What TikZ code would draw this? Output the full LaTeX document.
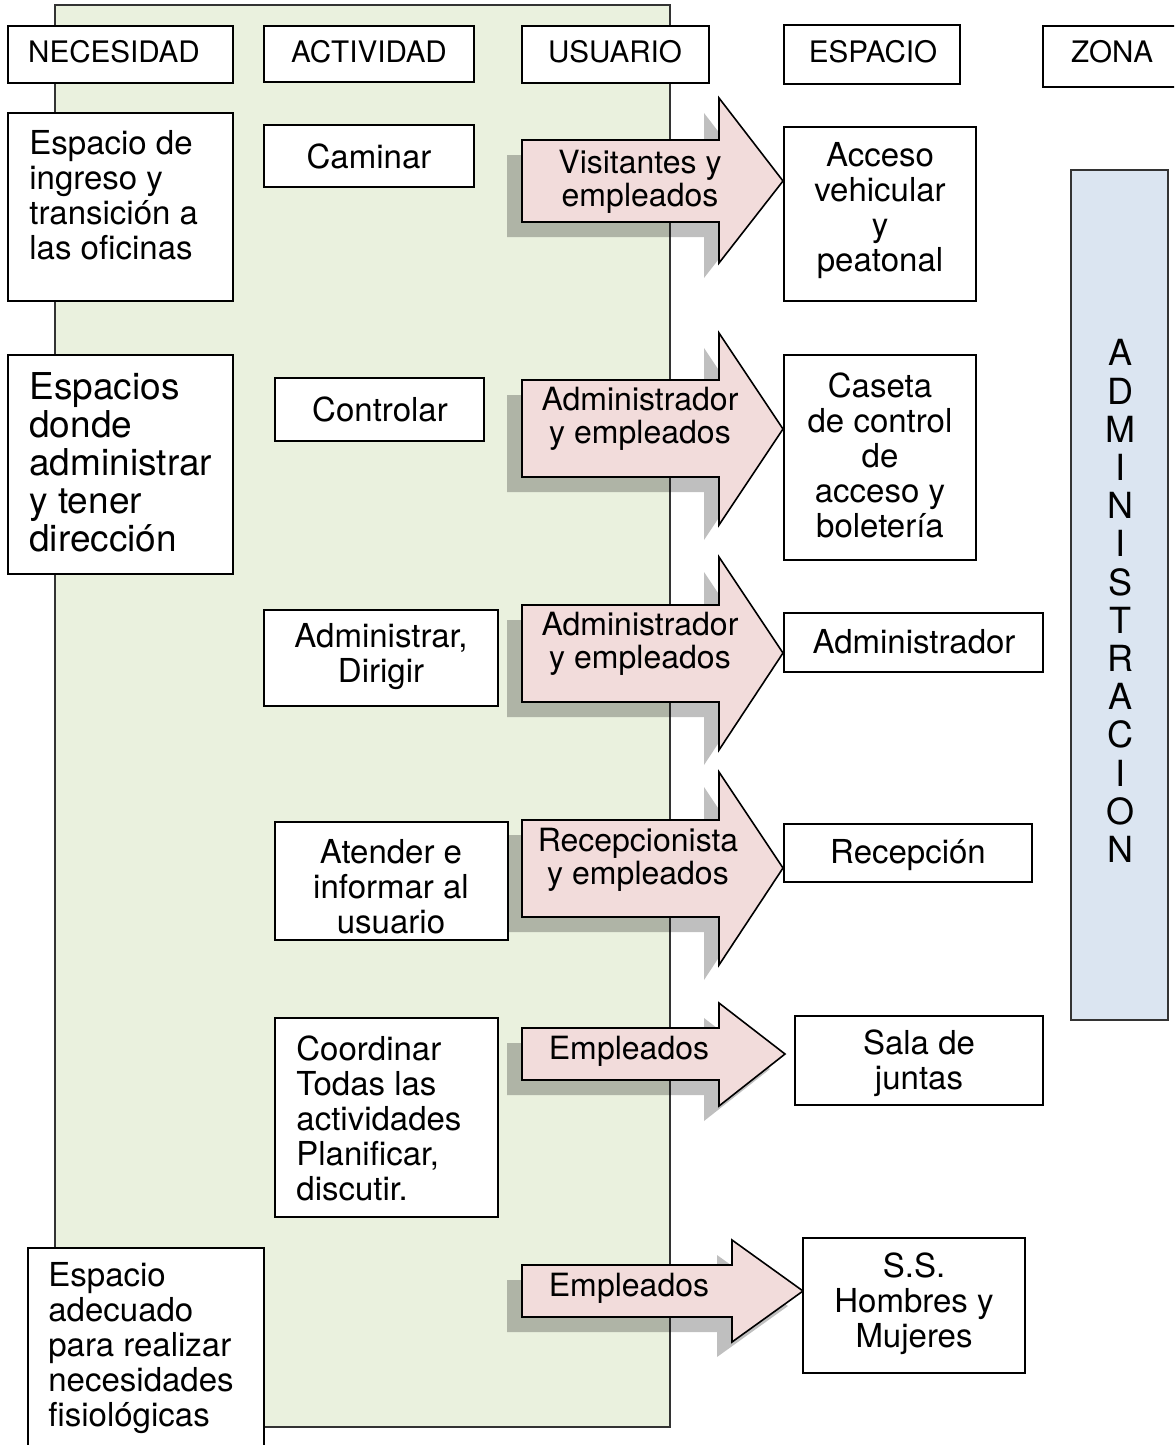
\documentclass[tikz,border=0pt]{standalone}
\usepackage{fontspec}
\setmainfont{TeX Gyre Heros}
\usetikzlibrary{fit}
\definecolor{bggreen}{HTML}{EAF1DE}
\definecolor{arrowpink}{HTML}{F2DCDB}
\definecolor{zoneblue}{HTML}{DBE5F1}
\definecolor{edgegray}{HTML}{333333}
\newcommand\mybox[3]{\node[box, fit={#2 #3}] (#1) {};}
\newcommand\myarrow[9]{%
  \fill[black, fill opacity=0.25, shift={(-15,15)}] (#2,#3)--(#5,#3)--(#5,#6)--(#8,#9)--(#5,#7)--(#5,#4)--(#2,#4)--cycle;
  \draw[arrowshape] (#2,#3)--(#5,#3)--(#5,#6)--(#8,#9)--(#5,#7)--(#5,#4)--(#2,#4)--cycle;
  \coordinate (#1) at (#8,#9);}
\begin{document}
\begin{tikzpicture}[x=0.5pt,y=-0.5pt,
  box/.style={draw=black, line width=0.8pt, fill=white, rectangle, inner sep=0pt},
  arrowshape/.style={draw=black, line width=0.8pt, fill=arrowpink, line join=miter},
  hdr/.style={font=\fontsize{14.8}{16}\selectfont, inner sep=0pt},
  txt/.style={font=\fontsize{16.5}{17.5}\selectfont, inner sep=0pt},
  bigtxt/.style={font=\fontsize{18.5}{19}\selectfont, inner sep=0pt},
  arrtxt/.style={font=\fontsize{16}{16.5}\selectfont, inner sep=0pt},
  zonetxt/.style={font=\fontsize{18}{19.1}\selectfont, inner sep=0pt}]
\useasboundingbox (0,0) rectangle (1174,1445);
\clip (0,0) rectangle (1174,1445);
\fill[white] (0,0) rectangle (1174,1445);
% green band
\node[draw=edgegray, line width=0.6pt, fill=bggreen, inner sep=0pt, fit={(55,5) (670,1427)}] (band) {};
% headers
\mybox{hN}{(8,26)}{(233,83)}
\mybox{hA}{(264,26)}{(474,82)}
\mybox{hU}{(522,26)}{(709,83)}
\mybox{hE}{(784,25)}{(960,84)}
\mybox{hZ}{(1043,26)}{(1190,87)}
\node[hdr] (hNt) at (114,52) {NECESIDAD};
\node[hdr] (hAt) at (369,52) {ACTIVIDAD};
\node[hdr] (hUt) at (615,52) {USUARIO};
\node[hdr] (hEt) at (873,52) {ESPACIO};
\node[hdr] (hZt) at (1112,52) {ZONA};
% necesidad boxes
\mybox{n1}{(8,113)}{(233,301)}
\node[txt, anchor=west, align=left] (n1t) at (29,195) {Espacio de\\ingreso y\\transición a\\las oficinas};
\mybox{n2}{(8,355)}{(233,574)}
\node[bigtxt, anchor=west, align=left] (n2t) at (29,462) {Espacios\\donde\\administrar\\y tener\\dirección};
\mybox{n3}{(28,1248)}{(264,1470)}
\node[txt, anchor=west, align=left] (n3t) at (48,1348) {Espacio\\adecuado\\para realizar\\necesidades\\fisiológicas};
% actividad boxes
\mybox{a1}{(264,125)}{(474,187)}
\node[txt] (a1t) at (369,156) {Caminar};
\mybox{a2}{(275,378)}{(484,441)}
\node[txt] (a2t) at (380,409) {Controlar};
\mybox{a3}{(264,610)}{(498,706)}
\node[txt, align=center] (a3t) at (381,657) {Administrar,\\Dirigir};
\mybox{a4}{(275,822)}{(508,940)}
\node[txt, align=center] (a4t) at (391,887) {Atender e\\informar al\\usuario};
\mybox{a5}{(275,1018)}{(498,1217)}
\node[txt, anchor=west, align=left] (a5t) at (296,1118) {Coordinar\\Todas las\\actividades\\Planificar,\\discutir.};
% arrows
\myarrow{t1}{522}{140}{222}{719}{98}{263}{783}{181}
\node[arrtxt, align=center] (u1t) at (640,182) {Visitantes y\\empleados};
\myarrow{t2}{522}{380}{477}{719}{333}{525}{783}{429}
\node[arrtxt, align=center] (u2t) at (640,419) {Administrador\\y empleados};
\myarrow{t3}{522}{605}{702}{719}{557}{750}{783}{653}
\node[arrtxt, align=center] (u3t) at (640,644) {Administrador\\y empleados};
\myarrow{t4}{522}{820}{917}{719}{772}{965}{783}{868}
\node[arrtxt, align=center] (u4t) at (638,860) {Recepcionista\\y empleados};
\myarrow{t5}{522}{1028}{1080}{719}{1003}{1106}{785}{1054}
\node[arrtxt] (u5t) at (629,1051) {Empleados};
\myarrow{t6}{522}{1265}{1317}{732}{1240}{1342}{803}{1291}
\node[arrtxt] (u6t) at (629,1288) {Empleados};
% espacio boxes
\mybox{e1}{(784,127)}{(976,301)}
\node[txt, align=center] (e1t) at (880,211) {Acceso\\vehicular\\y\\peatonal};
\mybox{e2}{(784,355)}{(976,560)}
\node[txt, align=center] (e2t) at (880,455) {Caseta\\de control\\de\\acceso y\\boletería};
\mybox{e3}{(784,613)}{(1043,672)}
\node[txt] (e3t) at (914,642) {Administrador};
\mybox{e4}{(784,824)}{(1032,882)}
\node[txt] (e4t) at (908,855) {Recepción};
\mybox{e5}{(795,1016)}{(1043,1105)}
\node[txt, align=center] (e5t) at (919,1063) {Sala de\\juntas};
\mybox{e6}{(803,1238)}{(1025,1373)}
\node[txt, align=center] (e6t) at (914,1304) {S.S.\\Hombres y\\Mujeres};
% zone
\node[draw=edgegray, line width=0.8pt, fill=zoneblue, inner sep=0pt, fit={(1071,170) (1168,1020)}] (zone) {};
\node[zonetxt, align=center] (zt) at (1120,601) {A\\D\\M\\I\\N\\I\\S\\T\\R\\A\\C\\I\\O\\N};
\end{tikzpicture}
\end{document}
